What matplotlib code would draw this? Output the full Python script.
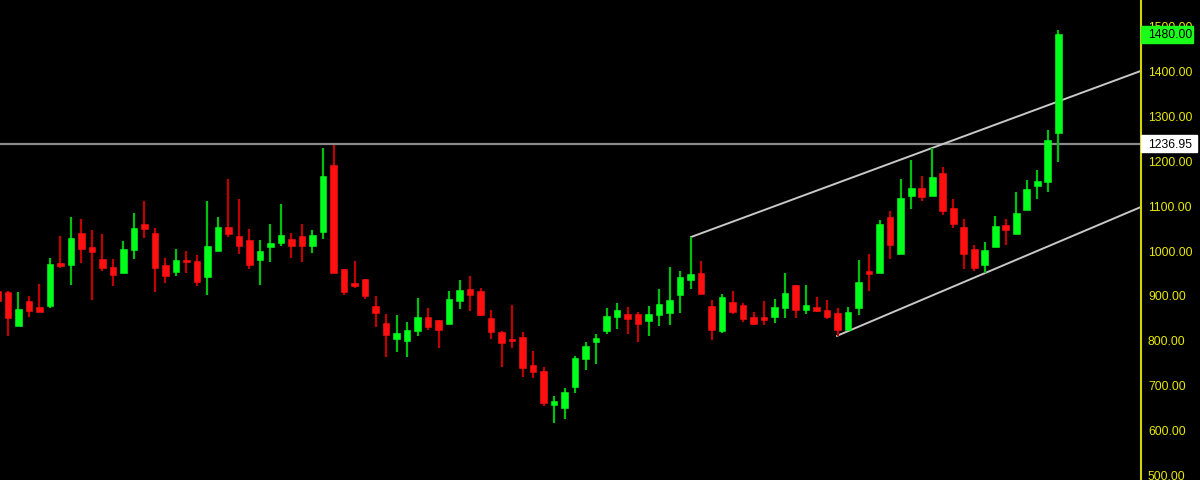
import matplotlib
matplotlib.use("Agg")
import matplotlib.pyplot as plt
from matplotlib.patches import Rectangle
from matplotlib.transforms import blended_transform_factory
import numpy as np

opens = [908, 907, 830, 886, 873, 876, 971, 967, 1038, 1007, 980, 962, 950, 1001, 1057, 1038, 967, 952, 978, 976,
         941, 999, 1051, 1031, 1022, 978, 1007, 1016, 1025, 1031, 1010, 1041, 1189, 958, 927, 936, 875, 838, 801, 797,
         819, 852, 845, 836, 887, 913, 909, 849, 817, 802, 807, 744, 730, 656, 648, 695, 757, 795, 820, 852,
         858, 858, 843, 856, 860, 901, 934, 950, 876, 819, 884, 878, 851, 850, 850, 872, 922, 866, 874, 866,
         860, 821, 872, 953, 950, 1074, 992, 1121, 1138, 1121, 1172, 1094, 1051, 1002, 967, 1007, 1056, 1036, 1090, 1143,
         1152, 1261]
highs = [912, 908, 907, 898, 924, 982, 1032, 1074, 1069, 1045, 1036, 980, 1020, 1082, 1109, 1049, 982, 1002, 998, 989,
         1109, 1074, 1158, 1114, 1047, 1022, 1058, 1102, 1038, 1058, 1045, 1227, 1235, 958, 976, 936, 898, 858, 856, 839,
         893, 871, 845, 909, 933, 943, 915, 867, 820, 878, 818, 776, 739, 674, 692, 763, 795, 814, 871, 882,
         873, 862, 875, 913, 963, 953, 1028, 976, 889, 902, 909, 882, 862, 886, 891, 949, 922, 922, 895, 889,
         871, 873, 978, 991, 1067, 1087, 1158, 1200, 1165, 1227, 1185, 1114, 1069, 1011, 1018, 1076, 1069, 1129, 1155, 1178,
         1267, 1490]
lows = [880, 809, 830, 850, 861, 870, 960, 922, 971, 889, 954, 919, 950, 980, 1027, 906, 927, 943, 950, 920,
        901, 999, 1030, 992, 958, 923, 974, 1010, 983, 974, 994, 1025, 950, 901, 915, 890, 829, 761, 772, 761,
        809, 823, 783, 836, 869, 865, 854, 803, 739, 782, 717, 715, 653, 615, 624, 682, 732, 747, 814, 825,
        814, 796, 809, 832, 834, 860, 913, 903, 799, 815, 858, 840, 834, 834, 838, 849, 849, 858, 862, 847,
        809, 821, 856, 909, 950, 981, 992, 1091, 1110, 1121, 1079, 1050, 958, 954, 950, 1007, 1012, 1036, 1090, 1114,
        1130, 1195]
closes = [886, 848, 869, 865, 863, 969, 965, 1027, 1002, 996, 960, 945, 1002, 1049, 1047, 961, 943, 978, 974, 929,
          1009, 1051, 1036, 1010, 967, 998, 1016, 1033, 1010, 1010, 1033, 1164, 950, 907, 920, 897, 860, 810, 816, 821,
          852, 829, 821, 891, 911, 901, 856, 818, 794, 798, 737, 728, 659, 665, 683, 759, 787, 805, 853, 867,
          847, 836, 858, 880, 889, 940, 947, 903, 823, 895, 863, 847, 836, 844, 874, 904, 867, 878, 865, 852,
          823, 862, 929, 947, 1058, 1012, 1116, 1138, 1119, 1163, 1088, 1059, 992, 961, 1000, 1053, 1045, 1082, 1136, 1154,
          1246, 1480]

hline_level = 1236.95
upper_channel = ([66.05, 108.9], [1029, 1399])
lower_channel = ([79.95, 108.9], [809, 1096])
ytick_vals = [500, 600, 700, 800, 900, 1000, 1100, 1200, 1300, 1400, 1500]
last_price = 1480.00

W, H = 1200, 481
fig = plt.figure(figsize=(W / 100, H / 100), dpi=100, facecolor="black")
ax = fig.add_axes([0, 0, 1141 / W, 1])
ax.set_facecolor("black")

idx = np.arange(len(opens))
o = np.array(opens, float)
c = np.array(closes, float)
hi = np.array(highs, float)
lo = np.array(lows, float)
up = c >= o

green, red = "#00ff1a", "#ff1010"
green_wick, red_wick = "#00c010", "#c00000"

ax.vlines(idx[up], lo[up], hi[up], color=green_wick, lw=1.6, zorder=2)
ax.vlines(idx[~up], lo[~up], hi[~up], color=red_wick, lw=1.6, zorder=2)
bw = 0.66
body_h = np.maximum(np.abs(c - o), 1.5)
body_b = np.minimum(o, c)
ax.bar(idx[up], body_h[up], bottom=body_b[up], width=bw, color=green, edgecolor=green, lw=0.4, zorder=3)
ax.bar(idx[~up], body_h[~up], bottom=body_b[~up], width=bw, color=red, edgecolor=red, lw=0.4, zorder=3)

ax.axhline(hline_level, color="#8a8a8a", lw=1.6, zorder=1)
ax.plot(*upper_channel, color="#c8c8c8", lw=1.4, zorder=1)
ax.plot(*lower_channel, color="#c8c8c8", lw=1.4, zorder=1)

ax.set_xlim(0.24, 108.9)
ax.set_ylim(488, 1559)

FS = 8.8
ax.yaxis.tick_right()
ax.set_yticks(ytick_vals)
ax.set_yticklabels([f"{v:.2f}" for v in ytick_vals], family="Liberation Sans")
ax.tick_params(axis="y", length=0, pad=5, colors="#e8e800", labelsize=FS)
ax.set_xticks([])
for s in ["top", "bottom", "left"]:
    ax.spines[s].set_visible(False)
ax.spines["right"].set_color("#d4d400")
ax.spines["right"].set_linewidth(1.5)

# price labels on the axis
tr = blended_transform_factory(fig.transFigure, ax.transData)
h_data = 17 / 0.449
for val, face, w in [(hline_level, "white", 56), (last_price, "#1aff1a", 52)]:
    rect = Rectangle((1141 / W, val - h_data / 2), w / W, h_data, transform=tr,
                     facecolor=face, edgecolor=face, zorder=20, clip_on=False)
    fig.add_artist(rect)
    fig.text(1148 / W, val, f"{val:.2f}", transform=tr, ha="left", va="center",
             fontsize=FS, family="Liberation Sans", color="black", zorder=21)

fig.savefig("out.png", dpi=100, facecolor="black")
